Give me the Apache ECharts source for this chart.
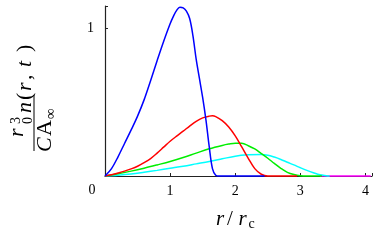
<!DOCTYPE html>
<html>
<head>
<meta charset="utf-8">
<script src="https://cdn.jsdelivr.net/npm/echarts@6/dist/echarts.min.js"></script>
<style>html,body{margin:0;padding:0;background:#fff;}#c{width:389px;height:245px;}</style>
</head>
<body>
<div id="c"></div>
<script>
// r / r_c sample positions and n values
var rBlue = [0,0.1,0.2,0.3,0.4,0.5,0.6,0.7,0.8,0.9,1.0,1.05,1.1,1.15,1.2,1.25,1.3,1.35,1.4,1.45,1.5,1.55,1.6,1.65,1.7,1.75,2.45];
var nBlue = [0,0.05,0.13,0.22,0.31,0.405,0.515,0.645,0.78,0.91,1.03,1.08,1.12,1.142,1.138,1.115,1.065,0.95,0.79,0.66,0.53,0.38,0.20,0.05,0.005,0,0];

var rRed = [0,0.1,0.2,0.3,0.4,0.5,0.6,0.7,0.8,0.9,1.0,1.1,1.2,1.3,1.4,1.5,1.6,1.65,1.7,1.8,1.9,2.0,2.1,2.2,2.3,2.4,2.5,2.95];
var nRed = [0,0.008,0.02,0.033,0.048,0.066,0.09,0.118,0.155,0.195,0.235,0.27,0.303,0.338,0.37,0.393,0.405,0.407,0.402,0.375,0.332,0.272,0.197,0.12,0.05,0.012,0,0];

var rGreen = [0,0.2,0.4,0.6,0.8,1.0,1.2,1.4,1.6,1.8,1.9,2.0,2.1,2.2,2.3,2.4,2.5,2.6,2.7,2.8,2.9,3.0,3.1,3.33];
var nGreen = [0,0.015,0.033,0.053,0.075,0.098,0.125,0.155,0.184,0.207,0.216,0.222,0.221,0.205,0.183,0.152,0.12,0.085,0.052,0.025,0.01,0.002,0,0];

var rCyan = [0,0.2,0.4,0.6,0.8,1.0,1.2,1.4,1.6,1.8,2.0,2.2,2.4,2.5,2.6,2.7,2.8,2.9,3.0,3.1,3.2,3.3,3.4,3.45];
var nCyan = [0,0.005,0.013,0.025,0.038,0.052,0.066,0.082,0.098,0.116,0.134,0.143,0.146,0.141,0.128,0.112,0.093,0.075,0.056,0.038,0.022,0.008,0.002,0];

var rMagenta = [3.3,3.7,4.08];
var nMagenta = [0,0,0];

var xTicks = [0,1,2,3,4];
var yTicks = [0,1];

function pairs(r, n){ return r.map(function(v,i){ return [v, n[i]]; }); }

var serif = '"Liberation Serif", "DejaVu Serif", serif';
var chart = echarts.init(document.getElementById('c'), null, {renderer:'canvas'});

function mkSeries(name, color, r, n, z){
  return {name:name, type:'line', data:pairs(r,n), showSymbol:false, smooth:0.35,
    lineStyle:{color:color, width:1.5}, itemStyle:{color:color}, animation:false, z:z, clip:false};
}

// rotated y-axis title built inside a rotated group (local x runs upward on screen)
var big = '22px '+serif, bigI = 'italic 22px '+serif, sm = '14px '+serif;
function t(lx, ly, txt, font){
  return {type:'text', x:lx, y:ly, style:{text:txt, font:font, fill:'#000', align:'left', verticalAlign:'middle'}};
}
var yTitleChildren = [
  {type:'rect', shape:{x:1, y:-0.5, width:56, height:1}, style:{fill:'#000'}},
  t(0, 11.5, 'C', bigI),
  t(16, 11.5, 'A', big),
  t(33, 17, '\u221E', '15px '+serif),
  t(15, -16.4, 'r', bigI),
  t(28, -18, '3', sm),
  t(28, -5.5, '0', sm),
  t(39, -8.5, 'n', bigI),
  t(52, -8.5, '(', big),
  t(61, -8.5, 'r', bigI),
  t(72, -8.5, ',', big),
  t(85, -8.5, 't', bigI),
  t(100, -8.5, ')', big)
];

chart.setOption({
  animation:false,
  backgroundColor:'#fff',
  grid:{left:105, top:6, width:267, height:170, containLabel:false},
  xAxis:{type:'value', min:0, max:4.1, interval:1,
    axisLine:{show:true, onZero:false, lineStyle:{color:'#222', width:1.2}},
    axisTick:{show:true, inside:true, length:3, lineStyle:{color:'#222'}},
    splitLine:{show:false},
    axisLabel:{margin:8, color:'#000', fontFamily:serif, fontSize:14,
      formatter:function(v){ return (v===0 || xTicks.indexOf(v)<0) ? '' : String(v); }}
  },
  yAxis:{type:'value', min:0, max:1.15, interval:1,
    axisLine:{show:true, onZero:false, lineStyle:{color:'#222', width:1.2}},
    axisTick:{show:true, inside:true, length:3, lineStyle:{color:'#222'}},
    splitLine:{show:false},
    axisLabel:{margin:11, color:'#000', fontFamily:serif, fontSize:14,
      formatter:function(v){ return (v===0 || yTicks.indexOf(v)<0) ? '' : String(v); }}
  },
  series:[
    mkSeries('m','#ff00ff', rMagenta, nMagenta, 3),
    mkSeries('c','#00ffff', rCyan, nCyan, 4),
    mkSeries('g','#00ee00', rGreen, nGreen, 5),
    mkSeries('r','#ff0000', rRed, nRed, 6),
    mkSeries('b','#0000ff', rBlue, nBlue, 7)
  ],
  graphic:{elements:[
    {type:'text', x:92, y:190, style:{text:'0', font:'14px '+serif, fill:'#000', align:'center', verticalAlign:'middle'}},
    {type:'text', x:216, y:219.5, style:{text:'r', font:'italic 21px '+serif, fill:'#000', verticalAlign:'middle'}},
    {type:'text', x:227, y:219.5, style:{text:'/', font:'21px '+serif, fill:'#000', verticalAlign:'middle'}},
    {type:'text', x:238.5, y:219.5, style:{text:'r', font:'italic 21px '+serif, fill:'#000', verticalAlign:'middle'}},
    {type:'text', x:248.5, y:224.5, style:{text:'c', font:'14px '+serif, fill:'#000', verticalAlign:'middle'}},
    {type:'group', x:34, y:152, rotation:Math.PI/2, children:yTitleChildren}
  ]}
});
</script>
</body>
</html>
